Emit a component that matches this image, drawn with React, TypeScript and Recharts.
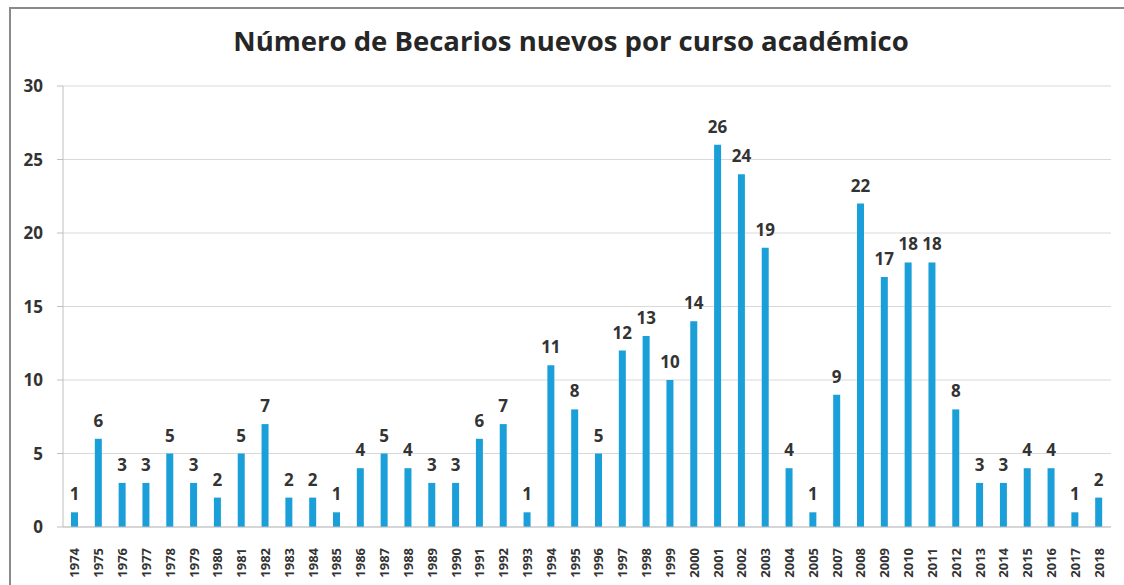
import React from "react";
import { BarChart, Bar, XAxis, YAxis, CartesianGrid, LabelList } from "recharts";

const years = [
  "1974","1975","1976","1977","1978","1979","1980","1981","1982","1983",
  "1984","1985","1986","1987","1988","1989","1990","1991","1992","1993",
  "1994","1995","1996","1997","1998","1999","2000","2001","2002","2003",
  "2004","2005","2007","2008","2009","2010","2011","2012","2013","2014",
  "2015","2016","2017","2018",
];
const becarios = [
  1,6,3,3,5,3,2,5,7,2,
  2,1,4,5,4,3,3,6,7,1,
  11,8,5,12,13,10,14,26,24,19,
  4,1,9,22,17,18,18,8,3,3,
  4,4,1,2,
];
const yTicks = [0, 5, 10, 15, 20, 25, 30];
const title = "Número de Becarios nuevos por curso académico";

const data = years.map((y, i) => ({ year: y, value: becarios[i] }));

const FONT = "'Open Sans', 'DejaVu Sans', sans-serif";

const XTick = (props: any) => {
  const { x, y, payload } = props;
  return (
    <text
      x={0}
      y={0}
      transform={`translate(${x + 4.5},${y + 13}) rotate(-90)`}
      textAnchor="end"
      fontSize={13}
      fontWeight={700}
      fill="#333"
      fontFamily={FONT}
    >
      {payload.value}
    </text>
  );
};

const YTick = (props: any) => {
  const { y, payload } = props;
  return (
    <text
      x={43}
      y={y + 6}
      textAnchor="end"
      fontSize={17}
      fontWeight={700}
      fill="#333"
      fontFamily={FONT}
    >
      {payload.value}
    </text>
  );
};

export default function App() {
  return (
    <div
      style={{
        position: "absolute",
        left: 0,
        top: 0,
        width: 1124,
        height: 585,
        overflow: "hidden",
        background: "#fff",
      }}
    >
      <div
        style={{
          position: "absolute",
          left: 9,
          top: 7,
          width: 1130,
          height: 600,
          border: "2px solid #8a8a8a",
          boxSizing: "border-box",
        }}
      />
      <div
        style={{
          position: "absolute",
          left: 0,
          top: 22,
          width: 1142,
          textAlign: "center",
          fontFamily: FONT,
          fontWeight: 700,
          fontSize: 27.5,
          color: "#262626",
          whiteSpace: "nowrap",
        }}
      >
        {title}
      </div>
      <div style={{ position: "absolute", left: 0, top: 0 }}>
        <BarChart
          width={1124}
          height={585}
          data={data}
          margin={{ top: 86, right: 13, left: 0, bottom: 0 }}
          barCategoryGap={0}
        >
          <CartesianGrid vertical={false} stroke="#d9d9d9" strokeWidth={1} />
          <XAxis
            dataKey="year"
            height={58}
            interval={0}
            tick={<XTick />}
            tickLine={false}
            axisLine={{ stroke: "#bfbfbf" }}
          />
          <YAxis
            width={63}
            domain={[0, 30]}
            ticks={yTicks}
            interval={0}
            tickSize={6}
            tickLine={{ stroke: "#bfbfbf" }}
            axisLine={{ stroke: "#bfbfbf" }}
            tick={<YTick />}
          />
          <Bar dataKey="value" fill="#1a9fd8" barSize={7} isAnimationActive={false}>
            <LabelList
              dataKey="value"
              position="top"
              offset={12}
              fontSize={17}
              fontWeight={700}
              fill="#333"
              fontFamily={FONT}
            />
          </Bar>
        </BarChart>
      </div>
    </div>
  );
}
